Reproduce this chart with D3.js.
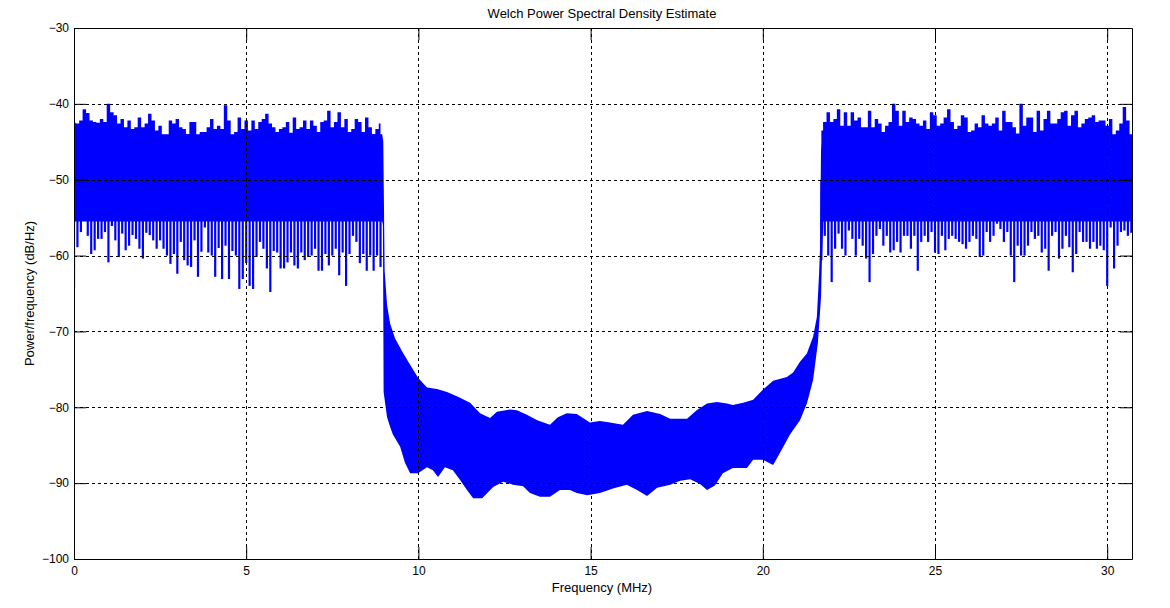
<!DOCTYPE html>
<html>
<head>
<meta charset="utf-8">
<script src="https://cdn.jsdelivr.net/npm/d3@7"></script>
<style>
    body { margin: 0; background: #fff; }
    svg { font-family: "Liberation Sans", Arial, sans-serif; }
</style>
</head>
<body>
<svg width="1170" height="608"></svg>
<script>
const xTicks = [0, 5, 10, 15, 20, 25, 30];
const yTicks = [-100, -90, -80, -70, -60, -50, -40, -30];
const fMax = 30.72;

// upper edge of the solid band (MHz, dB/Hz)
const topFreq = [0, 8.95, 8.98, 9.02, 9.09, 9.18, 9.32, 9.55, 9.76, 9.99, 10.25, 10.54, 10.83, 11.15, 11.50,
    11.79, 12.08, 12.28, 12.66, 12.86, 13.15, 13.45, 13.82, 14.05, 14.31, 14.60, 14.98, 15.27, 15.56, 15.94,
    16.23, 16.64, 17.02, 17.31, 17.80, 18.08, 18.38, 18.67, 18.96, 19.13, 19.43, 19.72, 20.00, 20.30, 20.70,
    20.88, 21.08, 21.28, 21.46, 21.57, 21.63, 21.66, 21.69, 21.73, 21.78, 30.72];
const topDb = [-44.0, -44.0, -45.0, -62.0, -66.5, -69.0, -70.9, -72.8, -74.4, -76.1, -77.4, -77.6, -78.0, -78.6, -79.4,
    -80.8, -81.4, -80.6, -80.3, -80.4, -81.0, -81.7, -82.3, -81.3, -80.8, -80.9, -82.0, -81.8, -82.0, -82.3,
    -81.0, -80.5, -80.9, -81.5, -81.5, -80.4, -79.5, -79.3, -79.5, -79.7, -79.4, -79.0, -77.7, -76.5, -76.0,
    -75.4, -74.0, -72.9, -70.7, -68.1, -62.8, -59.3, -46.3, -44.6, -44.0, -44.0];

// lower edge of the solid band
const botFreq = [0, 8.95, 8.97, 8.99, 9.09, 9.18, 9.26, 9.47, 9.61, 9.76, 9.99, 10.25, 10.42, 10.57, 10.77,
    11.00, 11.21, 11.41, 11.59, 11.85, 12.00, 12.17, 12.46, 12.75, 13.04, 13.24, 13.53, 13.82, 14.11, 14.40,
    14.60, 14.90, 15.27, 15.65, 16.05, 16.35, 16.64, 16.93, 17.31, 17.60, 17.89, 18.18, 18.38, 18.61, 18.84,
    19.13, 19.54, 19.72, 20.00, 20.30, 20.50, 20.79, 21.08, 21.28, 21.46, 21.60, 21.69, 21.72, 21.76, 30.72];
const botDb = [-55.5, -55.5, -56.0, -78.0, -81.3, -82.6, -83.6, -85.2, -87.3, -88.7, -88.7, -87.9, -88.3, -89.2, -87.9,
    -88.3, -89.6, -90.9, -92.0, -92.0, -91.3, -90.5, -89.8, -90.2, -90.4, -91.3, -91.8, -91.8, -90.9, -90.9,
    -91.3, -91.6, -91.3, -90.7, -90.2, -90.9, -91.7, -90.6, -90.2, -89.7, -89.5, -90.1, -90.9, -90.3, -88.7,
    -88.0, -88.0, -86.9, -86.9, -87.6, -86.0, -83.6, -81.7, -79.5, -76.4, -71.5, -65.5, -60.0, -55.5, -55.5];

// per-bin peaks in the pass bands (0.1 MHz bins)
const binWidth = 0.1;
const leftStart = 0;
const leftHi = [-42.5, -42.6, -42.2, -40.7, -41.2, -42.2, -42.4, -42.5, -42.0, -42.4,
    -40.0, -41.1, -41.5, -42.6, -42.0, -43.1, -42.2, -43.3, -43.1, -41.8,
    -43.1, -42.6, -41.3, -42.2, -43.5, -42.9, -44.2, -44.5, -42.2, -42.6,
    -42.0, -43.1, -43.3, -44.0, -42.4, -42.4, -44.4, -43.7, -43.7, -43.1,
    -42.0, -43.3, -42.9, -43.3, -40.2, -42.2, -44.6, -43.7, -41.8, -43.3,
    -42.2, -43.5, -42.2, -43.3, -42.4, -42.0, -41.3, -42.6, -43.1, -43.7,
    -43.3, -43.1, -42.4, -43.8, -41.8, -43.3, -43.1, -42.2, -43.3, -42.2,
    -42.9, -43.7, -42.4, -42.2, -40.9, -43.1, -42.4, -41.1, -43.1, -42.0,
    -43.7, -43.3, -42.0, -42.4, -43.7, -41.8, -43.1, -44.0, -43.3, -42.6];
const leftLo = [-64.2, -58.9, -56.9, -55.3, -57.4, -59.8, -59.3, -57.8, -57.8, -56.9,
    -60.9, -56.1, -58.0, -60.2, -57.1, -59.3, -58.7, -57.3, -57.8, -59.1,
    -60.4, -57.0, -57.3, -58.0, -59.1, -58.0, -59.1, -60.0, -61.1, -59.8,
    -62.4, -58.2, -60.6, -61.3, -61.5, -58.0, -62.8, -59.5, -56.3, -59.6,
    -60.0, -62.8, -59.0, -63.1, -58.7, -63.1, -59.4, -60.0, -64.4, -63.1,
    -61.0, -64.0, -64.4, -60.2, -58.2, -59.1, -61.7, -64.8, -59.4, -59.6,
    -61.7, -61.7, -60.9, -59.6, -61.3, -61.7, -59.6, -60.6, -60.2, -60.0,
    -59.1, -62.0, -62.0, -59.8, -61.3, -60.0, -59.1, -62.6, -59.6, -64.0,
    -59.8, -57.4, -58.2, -61.0, -59.8, -62.0, -60.0, -62.0, -60.0, -61.5];
const rightStart = 21.7;
const rightHi = [-43.5, -42.4, -41.1, -42.4, -42.0, -40.7, -42.9, -41.1, -42.9, -41.1,
    -42.2, -41.8, -43.1, -43.1, -40.9, -43.1, -42.0, -42.6, -43.7, -42.9,
    -42.4, -40.0, -40.9, -42.9, -40.9, -42.4, -41.8, -42.0, -42.6, -42.9,
    -42.2, -43.3, -41.1, -41.5, -42.9, -42.6, -41.8, -40.7, -42.4, -43.3,
    -42.9, -41.5, -41.8, -43.7, -43.5, -42.6, -43.1, -41.5, -42.6, -42.9,
    -42.6, -41.8, -43.5, -40.9, -42.4, -42.4, -43.1, -43.9, -40.0, -42.9,
    -41.8, -41.8, -43.7, -40.9, -43.5, -42.0, -40.9, -42.6, -42.6, -42.0,
    -41.1, -40.9, -42.9, -41.5, -40.9, -43.1, -42.6, -42.0, -41.8, -41.5,
    -42.4, -42.2, -42.2, -42.9, -42.0, -44.2, -43.5, -42.6, -40.4, -42.2, -45.3];
const rightLo = [-60.6, -57.4, -60.0, -63.5, -59.1, -57.1, -59.1, -60.0, -56.7, -57.8,
    -60.0, -57.8, -58.7, -60.4, -63.5, -59.8, -57.4, -56.5, -58.7, -57.4,
    -59.6, -59.3, -58.2, -59.6, -57.4, -57.4, -59.1, -57.4, -62.0, -58.2,
    -57.4, -58.2, -56.9, -59.6, -59.8, -57.4, -59.3, -57.8, -57.4, -57.8,
    -58.2, -58.5, -59.1, -58.2, -57.4, -57.8, -60.2, -60.0, -56.9, -58.2,
    -57.4, -55.8, -56.5, -58.2, -56.9, -60.0, -63.5, -58.7, -60.0, -60.0,
    -58.7, -56.9, -57.8, -57.4, -59.6, -59.1, -62.0, -57.4, -56.9, -60.4,
    -59.1, -57.4, -58.9, -62.2, -59.8, -56.9, -58.2, -58.2, -59.1, -58.2,
    -59.1, -58.7, -59.3, -64.0, -56.3, -61.7, -58.7, -56.9, -56.7, -57.4, -57.0];

drawChart();

function drawChart() {
    const svg = d3.select("svg");
    const left = 74, right = 1132, top = 28, bottom = 559;
    const blue = "#0000ff";

    const x = d3.scaleLinear().domain([0, fMax]).range([left, right]);
    const y = d3.scaleLinear().domain([-100, -30]).range([bottom, top]);

    svg.append("defs").append("clipPath").attr("id", "plotclip")
        .append("rect").attr("x", left).attr("y", top)
        .attr("width", right - left).attr("height", bottom - top);

    const plot = svg.append("g").attr("clip-path", "url(#plotclip)");

    //solid band: top edge forward, bottom edge back
    const topPts = topFreq.map((f, i) => [f, topDb[i]]);
    const botPts = botFreq.map((f, i) => [f, botDb[i]]).reverse();
    const bandLine = d3.line().x(d => x(d[0])).y(d => y(d[1]));
    plot.append("path")
        .attr("d", bandLine(topPts.concat(botPts)) + "Z")
        .attr("fill", blue);

    //pass band bins
    const leftBins = leftHi.map((h, i) => ({f: leftStart + i * binWidth, hi: h, lo: leftLo[i]}));
    const rightBins = rightHi.map((h, i) => ({f: rightStart + i * binWidth, hi: h, lo: rightLo[i]}));

    //upper edge: stepped skyline of bin peaks
    const skyline = d3.area()
        .curve(d3.curveStep)
        .x(d => x(d.f))
        .y0(y(-50))
        .y1(d => y(d.hi));
    [leftBins, rightBins].forEach(function (bins) {
        plot.append("path").attr("d", skyline(bins)).attr("fill", blue);
    });

    //lower edge: spikes down to the bin minimum
    plot.append("g")
        .selectAll("line")
        .data(leftBins.concat(rightBins))
        .enter().append("line")
        .attr("x1", d => x(d.f))
        .attr("x2", d => x(d.f))
        .attr("y1", y(-50))
        .attr("y2", d => y(d.lo))
        .attr("stroke", blue)
        .attr("stroke-width", 2.2);

    //dotted grid, drawn over the data
    const grid = svg.append("g")
        .attr("stroke", "#000")
        .attr("stroke-dasharray", "3,3")
        .attr("shape-rendering", "crispEdges");
    grid.selectAll("line.vx")
        .data(xTicks.filter(t => t > 0))
        .enter().append("line")
        .attr("x1", d => Math.round(x(d)) + 0.5)
        .attr("x2", d => Math.round(x(d)) + 0.5)
        .attr("y1", top)
        .attr("y2", bottom);
    grid.selectAll("line.hy")
        .data(yTicks.filter(t => t > -100 && t < -30))
        .enter().append("line")
        .attr("x1", left)
        .attr("x2", right)
        .attr("y1", d => Math.round(y(d)) + 0.5)
        .attr("y2", d => Math.round(y(d)) + 0.5);

    //axes, ticks pointing inward on all four sides
    const font = "'Liberation Sans', Arial, sans-serif";
    svg.append("g")
        .attr("transform", "translate(0," + bottom + ")")
        .call(d3.axisBottom(x).tickValues(xTicks).tickSizeInner(-12).tickSizeOuter(0).tickPadding(7))
        .attr("font-size", 12).attr("font-family", font);
    svg.append("g")
        .attr("transform", "translate(0," + top + ")")
        .call(d3.axisTop(x).tickValues(xTicks).tickSizeInner(-12).tickSizeOuter(0).tickFormat(""));
    svg.append("g")
        .attr("transform", "translate(" + left + ",0)")
        .call(d3.axisLeft(y).tickValues(yTicks).tickSizeInner(-12).tickSizeOuter(0).tickPadding(5))
        .attr("font-size", 12).attr("font-family", font);
    svg.append("g")
        .attr("transform", "translate(" + right + ",0)")
        .call(d3.axisRight(y).tickValues(yTicks).tickSizeInner(-12).tickSizeOuter(0).tickFormat(""));

    //labels
    svg.append("text")
        .attr("x", (left + right) / 2 - 1)
        .attr("y", 18)
        .attr("text-anchor", "middle")
        .attr("font-size", 13)
        .text("Welch Power Spectral Density Estimate");
    svg.append("text")
        .attr("x", (left + right) / 2 - 1)
        .attr("y", 592)
        .attr("text-anchor", "middle")
        .attr("font-size", 13)
        .text("Frequency (MHz)");
    svg.append("text")
        .attr("transform", "translate(34," + ((top + bottom) / 2) + ") rotate(-90)")
        .attr("text-anchor", "middle")
        .attr("font-size", 13)
        .text("Power/frequency (dB/Hz)");
}
</script>
</body>
</html>
